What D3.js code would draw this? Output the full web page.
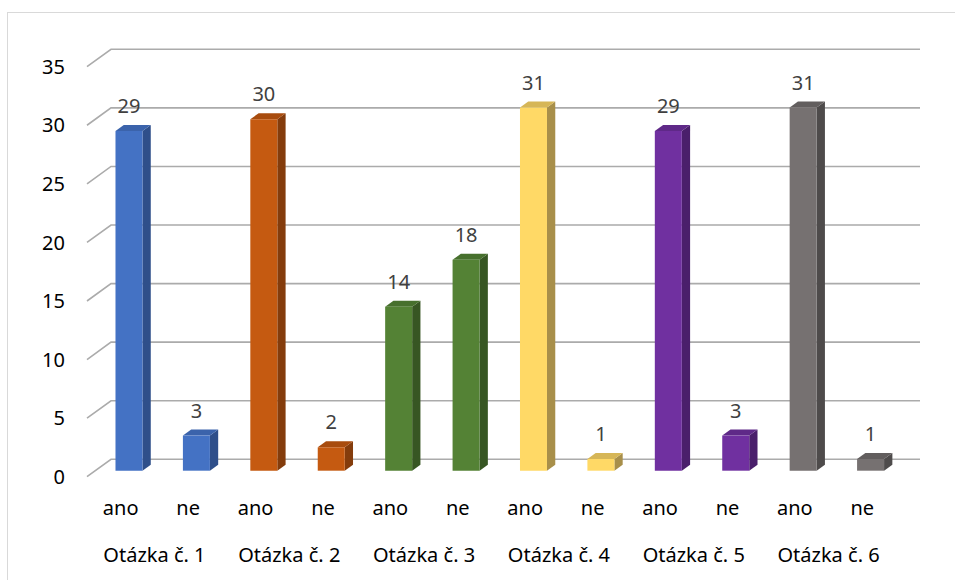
<!DOCTYPE html>
<html>
<head>
<meta charset="utf-8">
<script src="https://cdn.jsdelivr.net/npm/d3@7"></script>
<style>
  html, body { margin: 0; padding: 0; background: #fff; }
  svg { display: block; font-family: "Noto Sans", sans-serif; }
</style>
</head>
<body>
<div id="chart"></div>
<script>
// 3D clustered columns: two answers per question
const questions = ["Otázka č. 1", "Otázka č. 2", "Otázka č. 3", "Otázka č. 4", "Otázka č. 5", "Otázka č. 6"];
const answers = ["ano", "ne"];
const counts = [29, 3, 30, 2, 14, 18, 31, 1, 29, 3, 31, 1];
const yTicks = [0, 5, 10, 15, 20, 25, 30, 35];

// front / top / side shades per question
const frontColors = ["#4472C4", "#C55A11", "#548235", "#FFD966", "#7030A0", "#767171"];
const topColors   = ["#3b63ab", "#a84c0e", "#47702d", "#d6b657", "#5f2988", "#625e5e"];
const sideColors  = ["#2f4f8a", "#843C0C", "#375623", "#a88f4a", "#4a1f6b", "#4e4b4b"];

const W = 955, H = 580;

// depth projection: d = 0 front edge of floor, d = 1 back wall
const DX = 24, DY = -17.4;
const D_FRONT = 0.345, D_BACK = 0.69;
const proj = (x, y, d) => [x + DX * d, y + DY * d];

const rows = counts.map((v, i) => ({
  i,
  q: Math.floor(i / answers.length),
  answer: answers[i % answers.length],
  value: v
}));

const svg = d3.select("#chart").append("svg")
  .attr("width", W)
  .attr("height", H);

// outer chart border (runs off right/bottom edges)
svg.append("rect")
  .attr("x", 7.5).attr("y", 12.5)
  .attr("width", W + 20).attr("height", H + 20)
  .attr("fill", "none")
  .attr("stroke", "#d9d9d9")
  .attr("stroke-width", 1);

const x = d3.scaleBand()
  .domain(d3.range(counts.length))
  .range([87, 896])
  .paddingInner(0)
  .paddingOuter(0);

const y = d3.scaleLinear()
  .domain([0, 35])
  .range([476.7, 66.7]);

const barW = 27;

// gridlines: short diagonal on the side wall, then across the back wall
const grid = svg.append("g").attr("class", "grid");
const x0 = x.range()[0], x1 = x.range()[1];
yTicks.forEach(t => {
  const a = proj(x0, y(t), 0);
  const b = proj(x0, y(t), 1);
  const c = proj(x1, y(t), 1);
  grid.append("path")
    .attr("d", d3.line()([a, b, c]))
    .attr("fill", "none")
    .attr("stroke", "#ababab")
    .attr("stroke-width", 1.6);
});

// y tick labels
svg.append("g").selectAll("text")
  .data(yTicks)
  .join("text")
  .attr("x", 65)
  .attr("y", d => y(d))
  .attr("dy", "0.36em")
  .attr("text-anchor", "end")
  .attr("font-size", 20)
  .attr("fill", "#000")
  .text(d => d);

// bars
const bars = svg.append("g").attr("class", "bars");
rows.forEach(r => {
  const cx = x(r.i) + x.bandwidth() / 2;
  const left = cx - barW / 2, right = cx + barW / 2;
  const yb = y(0), yt = y(r.value);
  const g = bars.append("g");

  const fTL = proj(left, yt, D_FRONT), fTR = proj(right, yt, D_FRONT);
  const fBL = proj(left, yb, D_FRONT), fBR = proj(right, yb, D_FRONT);
  const bTL = proj(left, yt, D_BACK), bTR = proj(right, yt, D_BACK);
  const bBR = proj(right, yb, D_BACK);

  // side face
  g.append("path")
    .attr("d", d3.line()([fTR, bTR, bBR, fBR]) + "Z")
    .attr("fill", sideColors[r.q]);
  // top face
  g.append("path")
    .attr("d", d3.line()([fTL, bTL, bTR, fTR]) + "Z")
    .attr("fill", topColors[r.q]);
  // front face
  g.append("path")
    .attr("d", d3.line()([fTL, fTR, fBR, fBL]) + "Z")
    .attr("fill", frontColors[r.q]);

  // value label
  svg.append("text")
    .attr("x", fTL[0] + barW / 2)
    .attr("y", fTL[1] - 18)
    .attr("text-anchor", "middle")
    .attr("font-size", 20)
    .attr("fill", "#404040")
    .text(r.value);
});

// category labels (answers)
svg.append("g").selectAll("text")
  .data(rows)
  .join("text")
  .attr("x", d => x(d.i) + x.bandwidth() / 2)
  .attr("y", 515)
  .attr("text-anchor", "middle")
  .attr("font-size", 20)
  .attr("fill", "#000")
  .text(d => d.answer);

// group labels (questions)
svg.append("g").selectAll("text")
  .data(questions)
  .join("text")
  .attr("x", (d, i) => x(i * 2) + x.bandwidth())
  .attr("y", 562)
  .attr("text-anchor", "middle")
  .attr("font-size", 20)
  .attr("fill", "#000")
  .text(d => d);
</script>
</body>
</html>
